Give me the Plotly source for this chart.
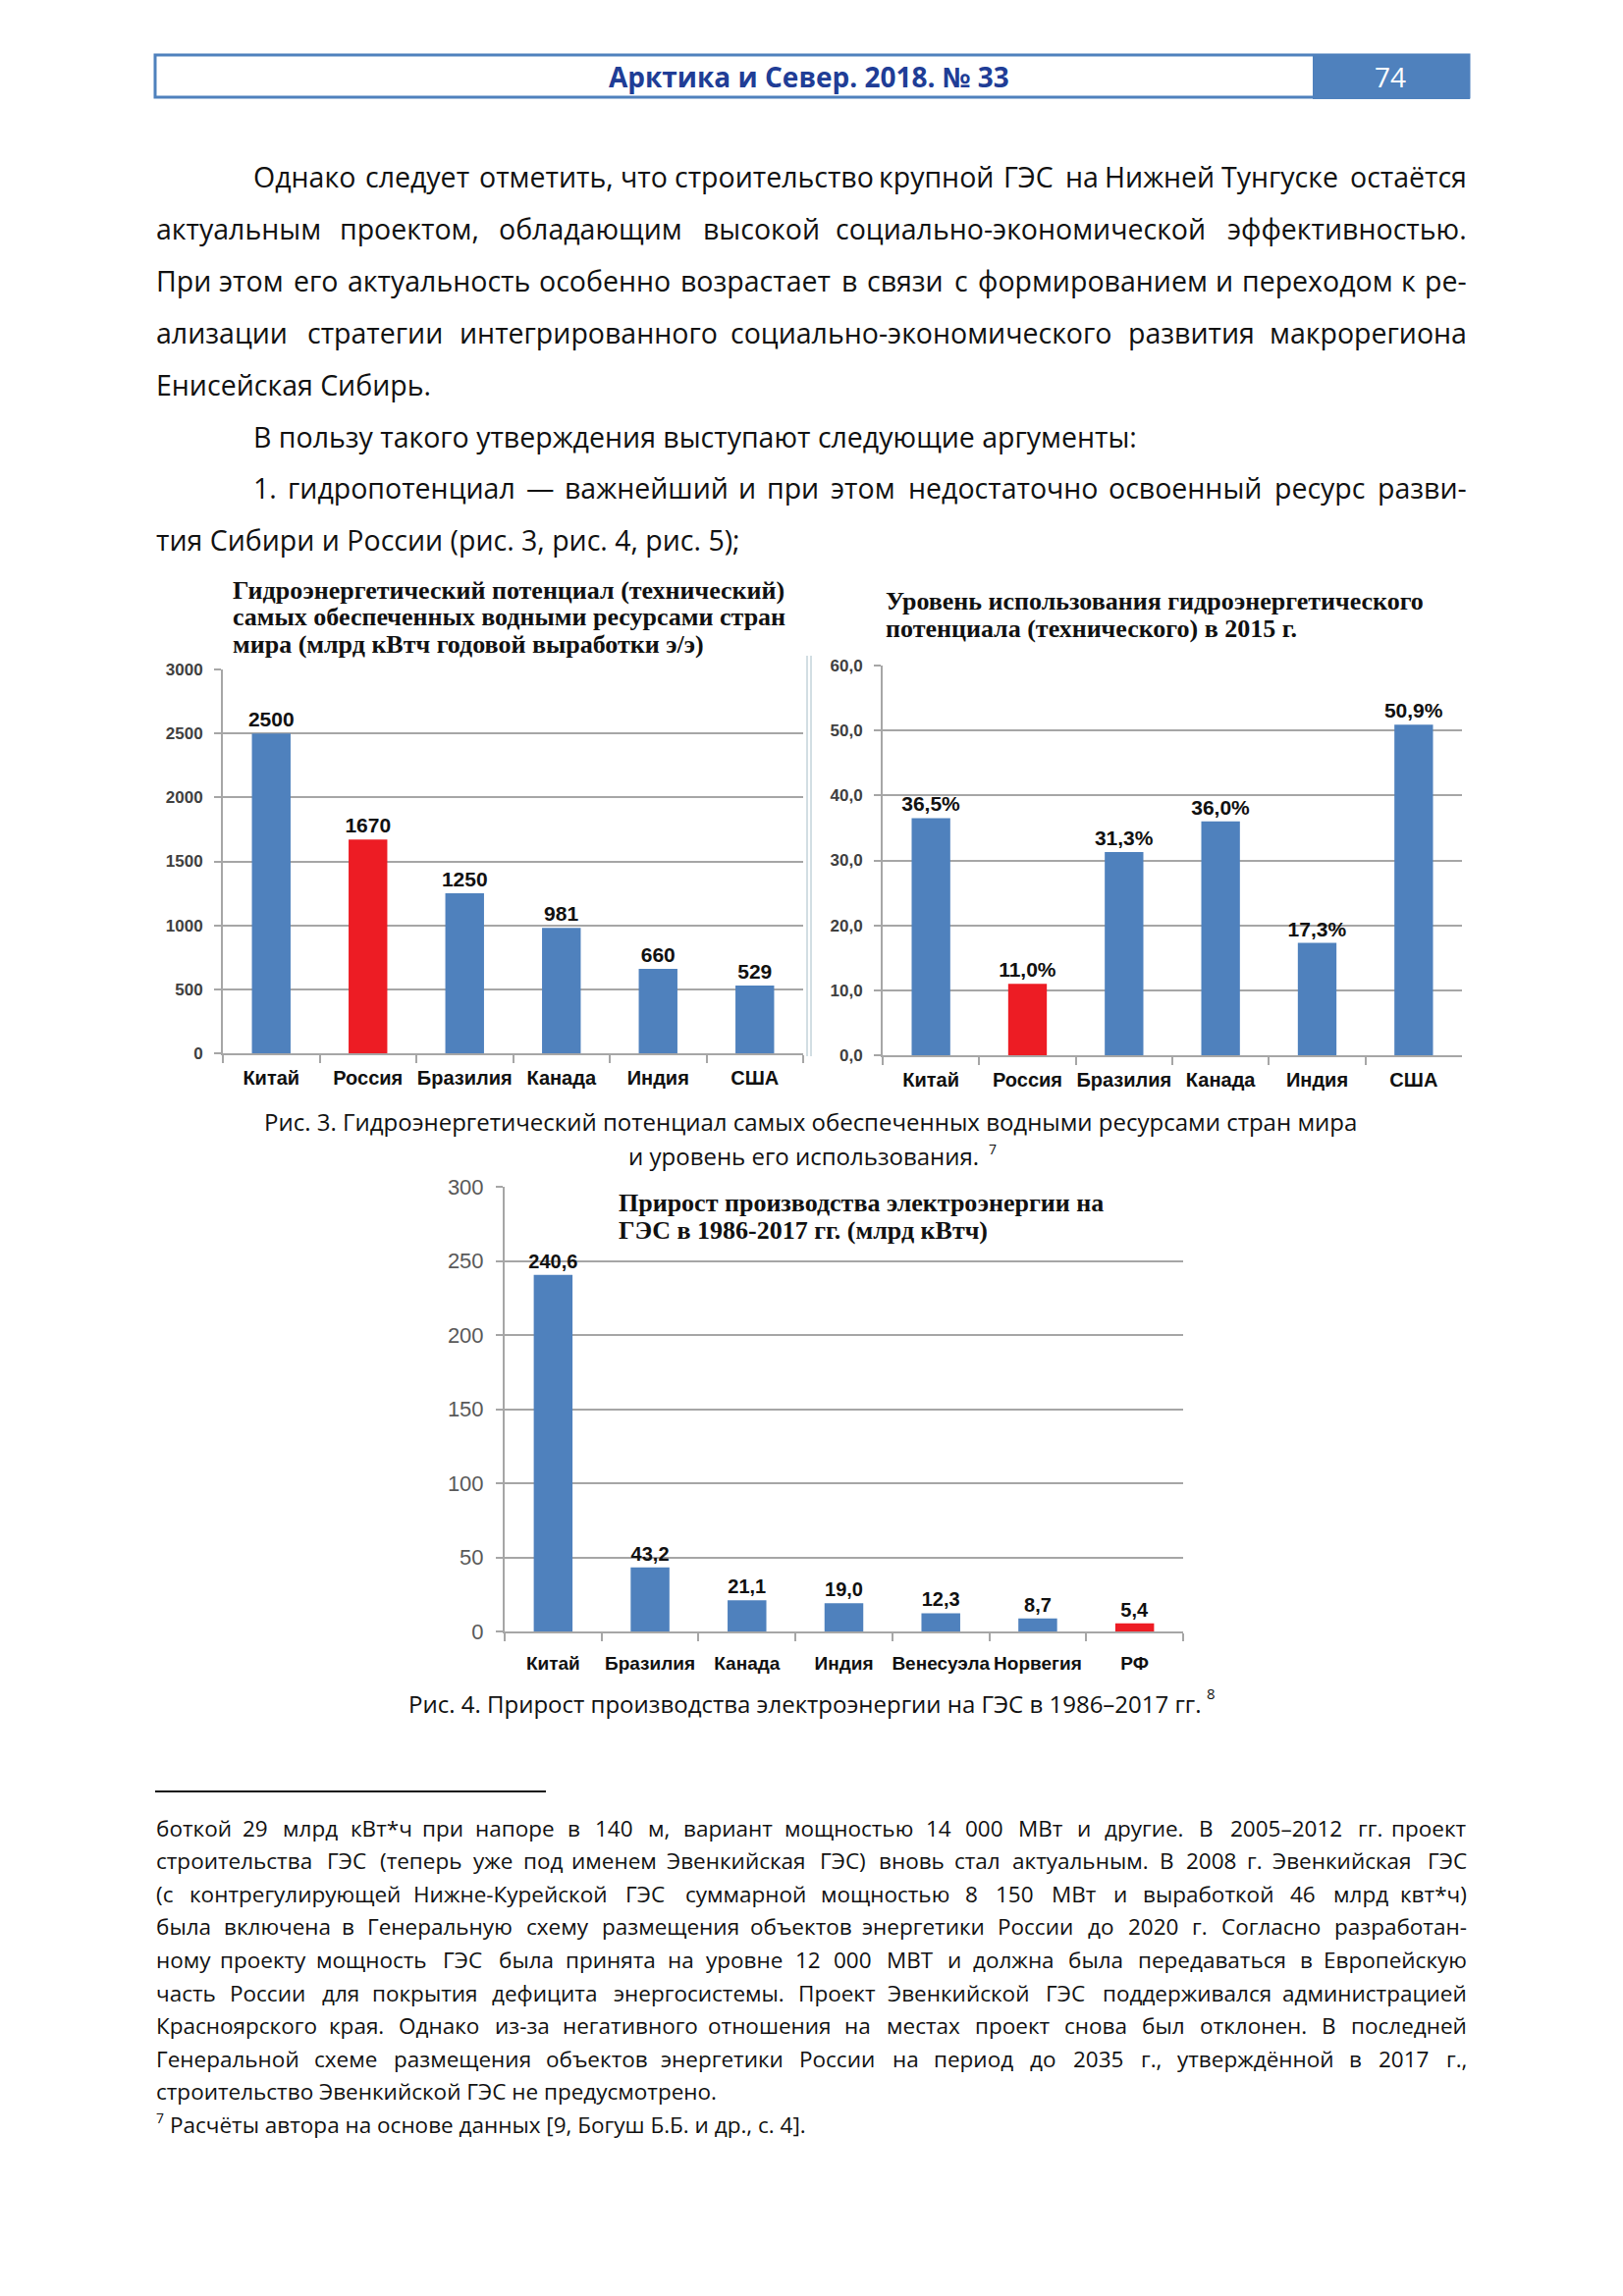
import plotly.graph_objects as go

# page size in px
W, H = 1653, 2339

# --- chart data -------------------------------------------------------------
pot_countries = ["Китай", "Россия", "Бразилия", "Канада", "Индия", "США"]
pot_values = [2500, 1670, 1250, 981, 660, 529]
pot_ticks = [0, 500, 1000, 1500, 2000, 2500, 3000]

use_countries = ["Китай", "Россия", "Бразилия", "Канада", "Индия", "США"]
use_values = [36.5, 11.0, 31.3, 36.0, 17.3, 50.9]
use_ticks = [0, 10, 20, 30, 40, 50, 60]
use_ticktext = ["0,0", "10,0", "20,0", "30,0", "40,0", "50,0", "60,0"]

gain_countries = ["Китай", "Бразилия", "Канада", "Индия", "Венесуэла", "Норвегия", "РФ"]
gain_values = [240.6, 43.2, 21.1, 19.0, 12.3, 8.7, 5.4]
gain_ticks = [0, 50, 100, 150, 200, 250, 300]

BLUE = "#4f81bd"
RED = "#ed1c24"
GRID = "#a6a6a6"


def bar_colors(names, red_name):
    return [RED if n == red_name else BLUE for n in names]


# --- page text --------------------------------------------------------------
body_lines = [
    ("Однако следует отметить, что строительство крупной ГЭС на Нижней Тунгуске остаётся", True, True),
    ("актуальным проектом, обладающим высокой социально-экономической эффективностью.", False, True),
    ("При этом его актуальность особенно возрастает в связи с формированием и переходом к ре-", False, True),
    ("ализации стратегии интегрированного социально-экономического развития макрорегиона", False, True),
    ("Енисейская Сибирь.", False, False),
    ("В пользу такого утверждения выступают следующие аргументы:", True, False),
    ("1. гидропотенциал — важнейший и при этом недостаточно освоенный ресурс разви-", True, True),
    ("тия Сибири и России (рис. 3, рис. 4, рис. 5);", False, False),
]

foot_lines = [
    ("боткой 29 млрд кВт*ч при напоре в 140 м, вариант мощностью 14 000 МВт и другие. В 2005–2012 гг. проект", True),
    ("строительства ГЭС (теперь уже под именем Эвенкийская ГЭС) вновь стал актуальным. В 2008 г. Эвенкийская ГЭС", True),
    ("(с контрегулирующей Нижне-Курейской ГЭС суммарной мощностью 8 150 МВт и выработкой 46 млрд квт*ч)", True),
    ("была включена в Генеральную схему размещения объектов энергетики России до 2020 г. Согласно разработан-", True),
    ("ному проекту мощность ГЭС была принята на уровне 12 000 МВТ и должна была передаваться в Европейскую", True),
    ("часть России для покрытия дефицита энергосистемы. Проект Эвенкийской ГЭС поддерживался администрацией", True),
    ("Красноярского края. Однако из-за негативного отношения на местах проект снова был отклонен. В последней", True),
    ("Генеральной схеме размещения объектов энергетики России на период до 2035 г., утверждённой в 2017 г.,", True),
    ("строительство Эвенкийской ГЭС не предусмотрено.", False),
]
foot_note7 = "Расчёты автора на основе данных [9, Богуш Б.Б. и др., с. 4]."

SANS = "Liberation Sans, Arial, sans-serif"
BODY = "Open Sans, Noto Sans, sans-serif"
SERIF = "Liberation Serif, Times New Roman, serif"

# rough advance widths (1/1000 em, Arial-like) used to spread words of justified lines
_w = {}
for ch, v in zip("абвгдеёжзийклмнопрстуфхцчшщъыьэюя",
                 [556, 573, 531, 365, 583, 556, 556, 669, 458, 559, 559, 438, 583, 688, 552, 556,
                  542, 556, 500, 458, 500, 823, 500, 573, 521, 802, 823, 625, 719, 521, 510, 750, 542]):
    _w[ch] = v
for ch, v in zip("АБВГДЕЁЖЗИЙКЛМНОПРСТУФХЦЧШЩЪЫЬЭЮЯ",
                 [667, 656, 667, 542, 677, 667, 667, 923, 604, 719, 719, 583, 656, 833, 722, 778,
                  719, 667, 722, 611, 635, 760, 667, 740, 667, 917, 938, 792, 885, 656, 719, 1010, 722]):
    _w[ch] = v
_w.update({".": 278, ",": 278, ":": 278, ";": 278, "(": 333, ")": 333, "[": 278, "]": 278,
           "-": 333, "–": 556, "—": 1000, "*": 389, "№": 1073})
BODY_SCALE = 1.05  # Open Sans runs a little wider than Arial


def text_width(s, size):
    return sum(_w.get(c, 556) for c in s) * size * BODY_SCALE / 1000.0


def fx(x):
    return x / W


def fy(y):
    return 1 - y / H


annotations = []


def add_text(x, y, text, size, family=BODY, color="#111111", anchor="left", weight="normal"):
    annotations.append(dict(
        x=fx(x), y=fy(y), xref="paper", yref="paper", text=text, showarrow=False,
        xanchor=anchor, yanchor="middle", align=anchor, borderpad=0,
        font=dict(size=size, family=family, color=color, weight=weight),
    ))


def add_line(text, y, x0, x1, size, justify):
    words = text.split(" ")
    widths = [text_width(w, size) for w in words]
    n = len(words)
    gap = (x1 - x0 - sum(widths)) / (n - 1) if n > 1 else 0
    if not justify or n < 2 or gap < 0.1 * size:
        add_text(x0, y, text, size)
        return
    pos = x0
    for i, (w, wd) in enumerate(zip(words, widths)):
        if i == 0:
            add_text(x0, y, w, size, anchor="left")
        elif i == n - 1:
            add_text(x1, y, w, size, anchor="right")
        else:
            add_text(pos + wd / 2, y, w, size, anchor="center")
        pos += wd + gap


LEFT, RIGHT, INDENT = 158, 1495, 257

for i, (txt, indent, just) in enumerate(body_lines):
    add_line(txt, 180 + i * 52.9, INDENT if indent else LEFT, RIGHT, 28.5, just)

for i, (txt, just) in enumerate(foot_lines):
    add_line(txt, 1862 + i * 33.6, LEFT, RIGHT, 22.5, just)
add_text(158, 2157, "7", 14)
add_text(172, 1862 + 9 * 33.6, foot_note7, 22.5)

# header
add_text(824, 78, "Арктика и Север. 2018. № 33", 28, color="#203d96", anchor="center", weight="bold")
add_text(1416, 78, "74", 28, color="white", anchor="center")

# captions
add_text(825, 1143, "Рис. 3. Гидроэнергетический потенциал самых обеспеченных водными ресурсами стран мира",
         24, anchor="center")
add_text(818, 1177, "и уровень его использования.", 24, anchor="center")
add_text(1006, 1170, "7", 14)
add_text(820, 1735, "Рис. 4. Прирост производства электроэнергии на ГЭС в 1986–2017 гг.", 24, anchor="center")
add_text(1228, 1725, "8", 15)

# chart titles
for i, t in enumerate(["Гидроэнергетический потенциал (технический)",
                       "самых обеспеченных водными ресурсами стран",
                       "мира (млрд кВтч годовой выработки э/э)"]):
    add_text(236, 601 + i * 27.5, t, 26, family=SERIF, weight="bold")
for i, t in enumerate(["Уровень использования гидроэнергетического",
                       "потенциала (технического) в 2015 г."]):
    add_text(901, 612 + i * 28, t, 26, family=SERIF, weight="bold")
for i, t in enumerate(["Прирост производства электроэнергии на",
                       "ГЭС в 1986-2017 гг. (млрд кВтч)"]):
    add_text(629, 1225 + i * 28, t, 26, family=SERIF, weight="bold")

# --- bars -------------------------------------------------------------------
fig = go.Figure()
label_font = dict(size=21, family=SANS, color="#111111", weight="bold")

fig.add_trace(go.Bar(
    x=pot_countries, y=pot_values, marker=dict(color=bar_colors(pot_countries, "Россия"), line_width=0),
    text=[str(v) for v in pot_values], textposition="outside", textfont=label_font,
    constraintext="none", cliponaxis=False, xaxis="x", yaxis="y",
))
fig.add_trace(go.Bar(
    x=use_countries, y=use_values, marker=dict(color=bar_colors(use_countries, "Россия"), line_width=0),
    text=[f"{v:.1f}%".replace(".", ",") for v in use_values], textposition="outside", textfont=label_font,
    constraintext="none", cliponaxis=False, xaxis="x2", yaxis="y2",
))
fig.add_trace(go.Bar(
    x=gain_countries, y=gain_values, marker=dict(color=bar_colors(gain_countries, "РФ"), line_width=0),
    text=[f"{v:.1f}".replace(".", ",") for v in gain_values], textposition="outside",
    textfont=dict(size=20, family=SANS, color="#111111", weight="bold"),
    constraintext="none", cliponaxis=False, xaxis="x3", yaxis="y3",
))


def cat_axis(x0, x1, anchor, standoff, size):
    return dict(
        domain=[fx(x0), fx(x1)], anchor=anchor, type="category", automargin=False,
        showline=True, linecolor=GRID, linewidth=2, tickangle=0,
        ticks="outside", tickson="boundaries", ticklen=8, tickcolor=GRID, tickwidth=2,
        tickfont=dict(size=size, family=SANS, color="#111111", weight="bold"),
        ticklabelstandoff=standoff, showgrid=False, fixedrange=True,
    )


def val_axis(y0, y1, anchor, ticks, ticktext, font):
    return dict(
        domain=[fy(y0), fy(y1)], anchor=anchor, range=[0, ticks[-1]], automargin=False,
        tickvals=ticks, ticktext=ticktext, showgrid=True, gridcolor=GRID, gridwidth=2,
        showline=True, linecolor=GRID, linewidth=2, zeroline=False,
        ticks="outside", ticklen=7, tickcolor=GRID, tickwidth=2,
        tickfont=font, ticklabelstandoff=8, fixedrange=True,
    )


bold_tick = dict(size=17, family=SANS, color="#404040", weight="bold")

shapes = [
    # header frame and page number box
    dict(type="rect", xref="paper", yref="paper", x0=fx(158), x1=fx(1496), y0=fy(99), y1=fy(56),
         line=dict(color=BLUE, width=3)),
    dict(type="rect", xref="paper", yref="paper", x0=fx(1337), x1=fx(1497), y0=fy(101), y1=fy(55),
         fillcolor=BLUE, line=dict(width=0)),
    # seam between the two upper pictures
    dict(type="line", xref="paper", yref="paper", x0=fx(822), x1=fx(822), y0=fy(1076), y1=fy(668),
         line=dict(color="#c3d3da", width=1.5)),
    dict(type="line", xref="paper", yref="paper", x0=fx(826), x1=fx(826), y0=fy(1076), y1=fy(668),
         line=dict(color="#c3d3da", width=1.5)),
    # footnote rule
    dict(type="line", xref="paper", yref="paper", x0=fx(158), x1=fx(556), y0=fy(1825), y1=fy(1825),
         line=dict(color="#111111", width=2)),
]

fig.update_layout(
    width=W, height=H, margin=dict(l=0, r=0, t=0, b=0, pad=0, autoexpand=False),
    paper_bgcolor="white", plot_bgcolor="white", showlegend=False,
    bargap=0.6, hovermode=False,
    xaxis=cat_axis(227, 818, "y", 6, 20),
    yaxis=val_axis(1073, 682, "x", pot_ticks, [str(t) for t in pot_ticks], bold_tick),
    xaxis2=cat_axis(899, 1489, "y2", 6, 20),
    yaxis2=val_axis(1075, 678, "x2", use_ticks, use_ticktext, bold_tick),
    xaxis3=cat_axis(514, 1205, "y3", 14, 19),
    yaxis3=val_axis(1662, 1209, "x3", gain_ticks, [str(t) for t in gain_ticks],
                    dict(size=22, family=SANS, color="#595959")),
    annotations=annotations,
    shapes=shapes,
)

fig.write_html("out.html", config={"displayModeBar": False},
               post_script="document.body.style.margin='0';")
